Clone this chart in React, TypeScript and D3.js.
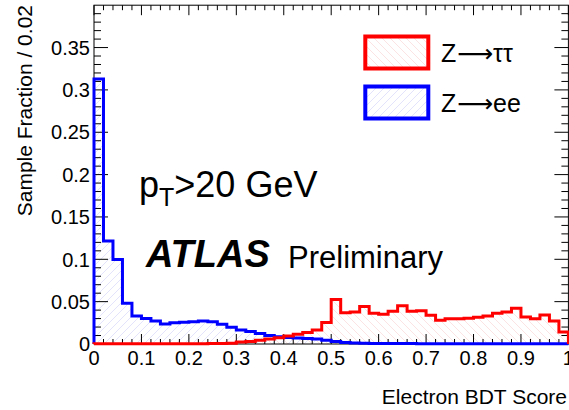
import React from "react";
import * as d3 from "d3";

// Electron BDT score distributions, fraction of events per 0.02-wide bin
const BIN_WIDTH = 0.02;

const zeeFraction = [
  0.313, 0.1215, 0.0998, 0.048, 0.033, 0.0300, 0.0272, 0.0236, 0.0251, 0.0256,
  0.0263, 0.0273, 0.0262, 0.0233, 0.0197, 0.0166, 0.0148, 0.0123, 0.0100, 0.0085,
  0.0078, 0.0070, 0.0066, 0.0060, 0.0045, 0.0030, 0.0018, 0.0012, 0.0009, 0.0007,
  0.0006, 0.0005, 0.0005, 0.0005, 0.0004, 0.0004, 0.0004, 0.0003, 0.0003, 0.0003,
  0.0003, 0.0003, 0.0003, 0.0002, 0.0002, 0.0002, 0.0002, 0.0002, 0.0002, 0.0002,
];

const zttFraction = [
  0.0002, 0.0002, 0.0002, 0.0002, 0.0002, 0.0002, 0.0002, 0.0002, 0.0002, 0.0002,
  0.0003, 0.0004, 0.0005, 0.0007, 0.0010, 0.0025, 0.0030, 0.0045, 0.0058, 0.0075,
  0.0095, 0.0115, 0.0135, 0.0165, 0.0255, 0.0525, 0.0370, 0.0378, 0.0442, 0.0363,
  0.0351, 0.0387, 0.0453, 0.0387, 0.0394, 0.0339, 0.0280, 0.0299, 0.0299, 0.0304,
  0.0316, 0.0331, 0.0363, 0.0378, 0.0422, 0.0319, 0.0299, 0.0343, 0.0272, 0.0141,
];

const xTickLabels = ["0", "0.1", "0.2", "0.3", "0.4", "0.5", "0.6", "0.7", "0.8", "0.9", "1"];
const yTickLabels = ["0", "0.05", "0.1", "0.15", "0.2", "0.25", "0.3", "0.35"];

const legendEntries = [
  { boson: "Z", decay: "\u03c4\u03c4", color: "#ff0000", pattern: "hatchRed" },
  { boson: "Z", decay: "ee", color: "#0000ff", pattern: "hatchBlue" },
];

const W = 569;
const H = 410;
const FONT = "'Liberation Sans', Arial, Helvetica, sans-serif";
const frame = { left: 94, right: 568.4, top: 5.2, bottom: 344 };

export default function App() {
  const x = d3.scaleLinear().domain([0, 1]).range([frame.left, frame.right]);
  const y = d3.scaleLinear().domain([0, 0.4]).range([frame.bottom, frame.top]);

  const outline = (values: number[]) => {
    const pts: [number, number][] = [[x(0), y(0)]];
    values.forEach((v, i) => {
      pts.push([x(i * BIN_WIDTH), y(v)]);
      pts.push([x((i + 1) * BIN_WIDTH), y(v)]);
    });
    pts.push([x(values.length * BIN_WIDTH), y(0)]);
    return d3.line()(pts) as string;
  };

  const xMinor = d3.range(0, 51).map((i) => i * BIN_WIDTH);
  const yMinor = d3.range(0, 40).map((i) => i * 0.01);
  const xMajorLen = 10;
  const xMinorLen = 5;
  const yMajorLen = 14;
  const yMinorLen = 7;

  const tickColor = "#000";

  return (
    <svg
      width={W}
      height={H}
      style={{ position: "fixed", left: 0, top: 0, background: "#fff" }}
      fontFamily={FONT}
    >
      <defs>
        <pattern id="hatchBlue" patternUnits="userSpaceOnUse" width={8} height={8}>
          <path d="M-2,2 L2,-2 M0,8 L8,0 M6,10 L10,6" stroke="#d0d0fa" strokeWidth={0.6} />
        </pattern>
        <pattern id="hatchRed" patternUnits="userSpaceOnUse" width={8} height={8}>
          <path d="M-2,6 L2,10 M0,0 L8,8 M6,-2 L10,2" stroke="#fad0d0" strokeWidth={0.6} />
        </pattern>
      </defs>
      <rect width={W} height={H} fill="#fff" />

      {/* hatched fills */}
      <path d={outline(zeeFraction)} fill="url(#hatchBlue)" stroke="none" />
      <path d={outline(zttFraction)} fill="url(#hatchRed)" stroke="none" />

      {/* frame */}
      <rect
        x={frame.left}
        y={frame.top}
        width={frame.right - frame.left}
        height={frame.bottom - frame.top}
        fill="none"
        stroke="#000"
        strokeWidth={1}
      />

      {/* x ticks, bottom and top */}
      {xMinor.map((v, i) => {
        const len = i % 5 === 0 ? xMajorLen : xMinorLen;
        return (
          <g key={`xt${i}`} stroke={tickColor} strokeWidth={1}>
            <line x1={x(v)} x2={x(v)} y1={frame.bottom} y2={frame.bottom - len} />
            <line x1={x(v)} x2={x(v)} y1={frame.top} y2={frame.top + len} />
          </g>
        );
      })}
      {/* y ticks, left and right */}
      {yMinor.map((v, i) => {
        const len = i % 5 === 0 ? yMajorLen : yMinorLen;
        return (
          <g key={`yt${i}`} stroke={tickColor} strokeWidth={1}>
            <line x1={frame.left} x2={frame.left + len} y1={y(v)} y2={y(v)} />
            <line x1={frame.right} x2={frame.right - len} y1={y(v)} y2={y(v)} />
          </g>
        );
      })}

      {/* histogram outlines */}
      <path d={outline(zeeFraction)} fill="none" stroke="#0000ff" strokeWidth={3} />
      <path d={outline(zttFraction)} fill="none" stroke="#ff0000" strokeWidth={3} />

      {/* tick labels */}
      {xTickLabels.map((t, i) => (
        <text key={`xl${i}`} x={x(i * 0.1)} y={365} fontSize={20} textAnchor="middle" fill="#000">
          {t}
        </text>
      ))}
      {yTickLabels.map((t, i) => (
        <text
          key={`yl${i}`}
          x={90}
          y={y(i * 0.05)}
          dy="0.36em"
          fontSize={20}
          textAnchor="end"
          fill="#000"
        >
          {t}
        </text>
      ))}

      {/* axis titles */}
      <text x={567} y={404} fontSize={21} textAnchor="end" fill="#000">
        Electron BDT Score
      </text>
      <text
        transform="translate(32,5) rotate(-90)"
        fontSize={21}
        textAnchor="end"
        fill="#000"
      >
        Sample Fraction / 0.02
      </text>

      {/* legend */}
      {legendEntries.map((e, i) => {
        const cy = 52.5 + i * 50;
        return (
          <g key={`lg${i}`}>
            <rect x={365.3} y={cy - 16} width={63} height={32} fill={`url(#${e.pattern})`} stroke={e.color} strokeWidth={4} />
            <text x={441} y={cy + 9.5} fontSize={25} fill="#000">
              {e.boson}
            </text>
            <text
              x={457}
              y={cy + 9.5}
              fontSize={25}
              fontFamily="'DejaVu Sans', sans-serif"
              fill="#000"
              textLength={36}
              lengthAdjust="spacingAndGlyphs"
            >
              {"\u27f6"}
            </text>
            <text x={493} y={cy + 9.5} fontSize={25} fill="#000">
              {e.decay}
            </text>
          </g>
        );
      })}

      {/* annotations */}
      <text x={139} y={197} fontSize={36} fill="#000">
        p
        <tspan dy={9} fontSize={25}>T</tspan>
        <tspan dy={-9}>&gt;20 GeV</tspan>
      </text>
      <text x={146} y={267} fontSize={38} fontWeight="bold" fontStyle="italic" fill="#000">
        ATLAS
      </text>
      <text x={288} y={268} fontSize={31} fill="#000">
        Preliminary
      </text>
    </svg>
  );
}
